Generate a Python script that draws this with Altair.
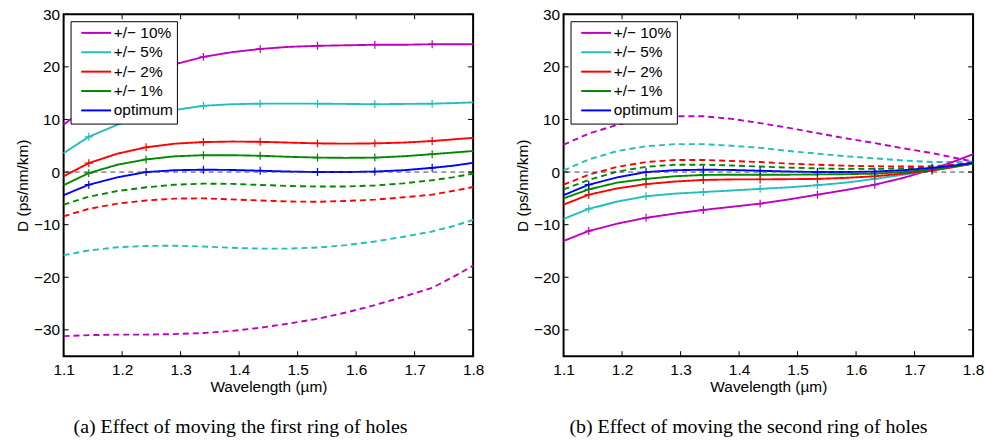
import altair as alt
import pandas as pd

# ---------------- data ----------------
WL = [1.100, 1.143, 1.192, 1.241, 1.290, 1.339, 1.388, 1.436,
      1.485, 1.534, 1.583, 1.632, 1.681, 1.730, 1.765, 1.800]
HAS_MARK = [0, 1, 0, 1, 0, 1, 0, 1, 0, 1, 0, 1, 0, 1, 0, 0]

LABELS = ["+/\u2212 10%", "+/\u2212 5%", "+/\u2212 2%", "+/\u2212 1%", "optimum"]
COLORS = ["#BF00BF", "#22BDBD", "#FF0000", "#008800", "#0000FF"]

X_TICKS = [1.1, 1.2, 1.3, 1.4, 1.5, 1.6, 1.7, 1.8]
Y_TICKS = [-30, -20, -10, 0, 10, 20, 30]

OPT = [-4.4, -2.4, -1.0, 0.0, 0.35, 0.45, 0.4, 0.25, 0.1, 0.0, 0.0, 0.1, 0.35, 0.8, 1.2, 1.75]

# panel (a): first ring of holes
A_SOLID_10 = [9.0, 12.7, 16.0, 18.6, 20.5, 21.9, 22.8, 23.4, 23.8, 24.0, 24.1, 24.2, 24.2, 24.3, 24.3, 24.3]
A_SOLID_5 = [3.6, 6.7, 9.0, 10.7, 11.8, 12.6, 12.9, 13.0, 13.0, 13.0, 12.95, 12.9, 12.95, 13.0, 13.1, 13.25]
A_SOLID_2 = [-0.8, 1.7, 3.5, 4.7, 5.4, 5.7, 5.8, 5.75, 5.6, 5.45, 5.4, 5.45, 5.6, 5.9, 6.2, 6.5]
A_SOLID_1 = [-2.5, -0.2, 1.4, 2.4, 3.0, 3.2, 3.2, 3.1, 2.9, 2.75, 2.7, 2.75, 3.0, 3.4, 3.7, 4.0]
A_DASH_10 = [-31.2, -31.0, -30.9, -30.9, -30.8, -30.6, -30.2, -29.6, -28.8, -27.9, -26.7, -25.3, -23.7, -22.0, -20.0, -17.8]
A_DASH_5 = [-15.8, -14.9, -14.3, -14.05, -14.0, -14.15, -14.4, -14.55, -14.55, -14.35, -13.9, -13.2, -12.3, -11.3, -10.3, -9.1]
A_DASH_2 = [-8.4, -7.0, -6.0, -5.4, -5.05, -5.0, -5.2, -5.4, -5.6, -5.65, -5.5, -5.25, -4.8, -4.3, -3.6, -2.85]
A_DASH_1 = [-6.2, -4.7, -3.6, -2.9, -2.4, -2.2, -2.25, -2.45, -2.65, -2.75, -2.75, -2.55, -2.15, -1.55, -1.0, -0.3]

# panel (b): second ring of holes
B_SOLID_10 = [-13.1, -11.2, -9.8, -8.7, -7.9, -7.2, -6.6, -6.0, -5.2, -4.3, -3.4, -2.4, -1.1, 0.5, 1.9, 3.4]
B_SOLID_5 = [-8.9, -7.0, -5.6, -4.6, -4.1, -3.8, -3.5, -3.2, -2.9, -2.5, -2.0, -1.3, -0.5, 0.3, 1.0, 1.7]
B_SOLID_2 = [-6.2, -4.3, -3.1, -2.3, -1.8, -1.5, -1.4, -1.4, -1.35, -1.3, -1.1, -0.8, -0.3, 0.3, 0.9, 1.6]
B_SOLID_1 = [-5.0, -3.3, -2.0, -1.3, -0.8, -0.55, -0.5, -0.5, -0.5, -0.45, -0.4, -0.3, 0.0, 0.5, 1.0, 1.6]
B_DASH_10 = [5.2, 7.3, 9.0, 10.1, 10.6, 10.6, 10.1, 9.3, 8.4, 7.4, 6.4, 5.5, 4.5, 3.6, 2.8, 2.0]
B_DASH_5 = [0.3, 2.4, 4.0, 4.9, 5.3, 5.3, 5.0, 4.6, 4.0, 3.5, 3.0, 2.6, 2.2, 1.9, 1.9, 2.0]
B_DASH_2 = [-2.4, -0.5, 1.0, 1.9, 2.3, 2.3, 2.1, 1.9, 1.6, 1.4, 1.2, 1.1, 1.05, 1.1, 1.4, 1.8]
B_DASH_1 = [-3.3, -1.5, 0.1, 1.0, 1.4, 1.4, 1.25, 1.05, 0.85, 0.7, 0.6, 0.6, 0.7, 0.9, 1.2, 1.6]

CAPTION_A = "(a)  Effect of moving the first ring of holes"
CAPTION_B = "(b)  Effect of moving the second ring of holes"

PANEL_A = [
    ("a10d", LABELS[0], "dashed", A_DASH_10), ("a5d", LABELS[1], "dashed", A_DASH_5),
    ("a2d", LABELS[2], "dashed", A_DASH_2), ("a1d", LABELS[3], "dashed", A_DASH_1),
    ("a10s", LABELS[0], "solid", A_SOLID_10), ("a5s", LABELS[1], "solid", A_SOLID_5),
    ("a2s", LABELS[2], "solid", A_SOLID_2), ("a1s", LABELS[3], "solid", A_SOLID_1),
    ("aopt", LABELS[4], "solid", OPT),
]
PANEL_B = [
    ("b10d", LABELS[0], "dashed", B_DASH_10), ("b5d", LABELS[1], "dashed", B_DASH_5),
    ("b2d", LABELS[2], "dashed", B_DASH_2), ("b1d", LABELS[3], "dashed", B_DASH_1),
    ("b10s", LABELS[0], "solid", B_SOLID_10), ("b5s", LABELS[1], "solid", B_SOLID_5),
    ("b2s", LABELS[2], "solid", B_SOLID_2), ("b1s", LABELS[3], "solid", B_SOLID_1),
    ("bopt", LABELS[4], "solid", OPT),
]


def make_df(series):
    rows = []
    for order, (sid, label, style, vals) in enumerate(series):
        for w, d, m in zip(WL, vals, HAS_MARK):
            rows.append({"series": sid, "label": label, "style": style,
                         "wl": w, "D": d, "mark": int(m and style == "solid"),
                         "order": order})
    return pd.DataFrame(rows)


FONT = "Liberation Sans"
W, H = 412, 344
TICK = 5
XSCALE = alt.Scale(domain=[1.1, 1.8], nice=False, zero=False)
YSCALE = alt.Scale(domain=[-35, 30], nice=False, zero=False)
CSCALE = alt.Scale(domain=LABELS, range=COLORS)


def tick_layers():
    xt = alt.Chart(pd.DataFrame({"t": X_TICKS}))
    yt = alt.Chart(pd.DataFrame({"t": Y_TICKS}))
    rule = dict(color="black", strokeWidth=1)
    xs = alt.X("t:Q", scale=XSCALE, axis=None)
    ys = alt.Y("t:Q", scale=YSCALE, axis=None)
    return [
        xt.mark_rule(**rule).encode(x=xs, y=alt.value(H - TICK), y2=alt.value(H)),
        xt.mark_rule(**rule).encode(x=xs, y=alt.value(0), y2=alt.value(TICK)),
        yt.mark_rule(**rule).encode(y=ys, x=alt.value(0), x2=alt.value(TICK)),
        yt.mark_rule(**rule).encode(y=ys, x=alt.value(W - TICK), x2=alt.value(W)),
    ]


def panel(series, caption, dx):
    df = make_df(series)
    zero = pd.DataFrame({"v": [0]})

    zline = alt.Chart(zero).mark_rule(color="#444444", strokeDash=[5, 4], strokeWidth=1).encode(
        y=alt.Y("v:Q", scale=YSCALE, axis=None)
    )

    lines = alt.Chart(df).mark_line(strokeWidth=1.9).encode(
        x=alt.X("wl:Q", scale=XSCALE,
                axis=alt.Axis(values=X_TICKS, format=".1f", title="Wavelength (\u00b5m)",
                              orient="bottom", ticks=False, domain=False, grid=False,
                              labelFlush=False, labelPadding=6, titlePadding=2)),
        y=alt.Y("D:Q", scale=YSCALE,
                axis=alt.Axis(values=Y_TICKS, format="d", title="D (ps/nm/km)",
                              orient="left", ticks=False, domain=False, grid=False,
                              labelFlush=False, labelPadding=4, titlePadding=3)),
        color=alt.Color("label:N", scale=CSCALE, sort=LABELS,
                        legend=alt.Legend(title=None, orient="none", legendX=7, legendY=7,
                                          symbolType="M-3,0H3", symbolSize=100,
                                          symbolStrokeWidth=2, symbolFillColor="transparent",
                                          labelFont=FONT, labelFontSize=15.5,
                                          labelColor="black",
                                          fillColor="white", strokeColor="black",
                                          padding=4, rowPadding=2.5, symbolOffset=14,
                                          labelOffset=10)),
        strokeDash=alt.StrokeDash("style:N",
                                  scale=alt.Scale(domain=["solid", "dashed"], range=[[1, 0], [6, 4]]),
                                  legend=None),
        detail="series:N",
        order=alt.Order("order:Q"),
    )

    marks = alt.Chart(df).transform_filter("datum.mark == 1").mark_point(
        shape="M-1,0H1M0,-1V1", filled=False, strokeWidth=1.2, size=64, opacity=1
    ).encode(
        x=alt.X("wl:Q", scale=XSCALE, axis=None),
        y=alt.Y("D:Q", scale=YSCALE, axis=None),
        color=alt.Color("label:N", scale=CSCALE, legend=None),
        detail="series:N",
    )

    return alt.layer(lines, zline, marks, *tick_layers()).resolve_axis(
        x="independent", y="independent"
    ).properties(
        width=W, height=H,
        title=alt.TitleParams(caption, orient="bottom", anchor="middle", frame="group",
                              font="Liberation Serif", fontSize=20, fontWeight="normal",
                              color="black", dx=dx, offset=22),
    )


chart = alt.hconcat(
    panel(PANEL_A, CAPTION_A, -28),
    panel(PANEL_B, CAPTION_B, -20),
    spacing=29,
).resolve_scale(
    color="independent"
).resolve_legend(
    color="independent"
).properties(
    padding={"left": 14, "top": 5, "right": 0, "bottom": 0},
    background="white",
).configure_view(
    stroke="black", strokeWidth=2
).configure_axis(
    labelFont=FONT, labelFontSize=15.5, labelColor="black",
    titleFont=FONT, titleFontSize=15.5, titleFontWeight="normal", titleColor="black",
)

chart.save("out.html", embed_options={"renderer": "svg", "actions": False})
